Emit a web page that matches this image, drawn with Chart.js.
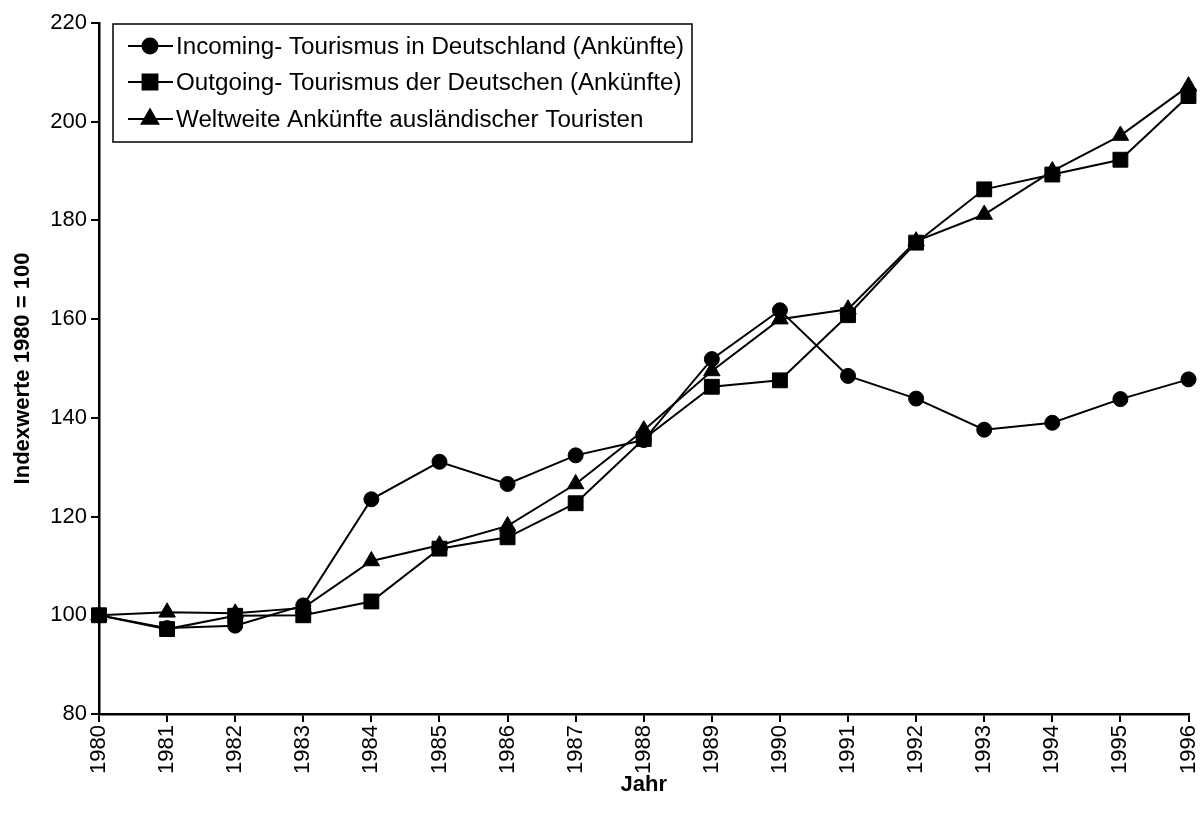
<!DOCTYPE html>
<html>
<head>
<meta charset="utf-8">
<script src="https://cdn.jsdelivr.net/npm/chart.js@4.4.1/dist/chart.umd.min.js"></script>
<style>
  html, body { margin: 0; padding: 0; background: #fff; }
  #wrap { width: 1200px; height: 816px; position: relative; }
</style>
</head>
<body>
<div id="wrap"><canvas id="c" width="1200" height="816"></canvas></div>
<script>
// ---- data ----
const years = ['1980','1981','1982','1983','1984','1985','1986','1987','1988','1989','1990','1991','1992','1993','1994','1995','1996'];
const incoming = [100, 97.4, 97.9, 102, 123.5, 131.1, 126.6, 132.4, 135.5, 151.9, 161.8, 148.5, 143.9, 137.6, 139, 143.8, 147.8];
const outgoing = [100, 97.2, 99.9, 100, 102.8, 113.5, 115.8, 122.7, 135.7, 146.3, 147.6, 160.8, 175.5, 186.3, 189.3, 192.3, 205.2];
const weltweit = [100, 100.6, 100.4, 101.5, 111, 114.2, 118.1, 126.6, 137.5, 149.5, 160, 162, 175.8, 181.2, 190, 197.2, 207.2];
const seriesLabels = [
  'Incoming- Tourismus in Deutschland (Ankünfte)',
  'Outgoing- Tourismus der Deutschen (Ankünfte)',
  'Weltweite Ankünfte ausländischer Touristen'
];
const yTicksMin = 80, yTicksMax = 220, yStep = 20;
const xTitle = 'Jahr';
const yTitle = 'Indexwerte 1980 = 100';

const FONT = '"Liberation Sans", Arial, Helvetica, sans-serif';

function ds(label, data, style, radius) {
  return {
    label, data,
    borderColor: '#000', backgroundColor: '#000',
    borderWidth: 2,
    pointStyle: style, pointRadius: radius, pointHoverRadius: radius,
    pointBackgroundColor: '#000', pointBorderColor: '#000', pointBorderWidth: 1,
    tension: 0, fill: false
  };
}

const legendBox = {
  id: 'legendBox',
  afterDraw(chart) {
    const ctx = chart.ctx;
    const x0 = 113, y0 = 24, w = 579, h = 118;
    ctx.save();
    ctx.fillStyle = '#fff';
    ctx.fillRect(x0, y0, w, h);
    ctx.strokeStyle = '#000';
    ctx.lineWidth = 1.5;
    ctx.strokeRect(x0, y0, w, h);
    const rows = [46, 82, 119];
    chart.data.datasets.forEach((d, i) => {
      const y = rows[i];
      ctx.strokeStyle = '#000';
      ctx.lineWidth = 2;
      ctx.beginPath();
      ctx.moveTo(128, y); ctx.lineTo(173, y);
      ctx.stroke();
      ctx.fillStyle = '#000';
      Chart.helpers.drawPoint(ctx, {pointStyle: d.pointStyle, radius: d.pointRadius, rotation: 0, borderWidth: 1}, 150, y);
      ctx.fill();
      ctx.font = '24.2px ' + FONT;
      ctx.textBaseline = 'middle';
      ctx.textAlign = 'left';
      ctx.fillText(d.label, 176, y + 1);
    });
    ctx.restore();
  }
};

new Chart(document.getElementById('c'), {
  type: 'line',
  data: {
    labels: years,
    datasets: [
      ds(seriesLabels[0], incoming, 'circle', 7.5),
      ds(seriesLabels[1], outgoing, 'rect', 10.5),
      ds(seriesLabels[2], weltweit, 'triangle', 9.5)
    ]
  },
  options: {
    responsive: false,
    animation: false,
    events: [],
    layout: { padding: { left: 0, right: 11, top: 23, bottom: 0 } },
    plugins: { legend: { display: false }, tooltip: { enabled: false } },
    scales: {
      x: {
        type: 'category',
        offset: false,
        afterFit(s) { s.height = 102; s.paddingRight = 0; s.paddingLeft = 0; },
        border: { display: true, color: '#000', width: 2.5 },
        grid: { display: true, drawOnChartArea: false, drawTicks: true, tickLength: 8, color: '#000', lineWidth: 2 },
        ticks: { color: '#000', font: { family: FONT, size: 22 }, autoSkip: false, minRotation: 90, maxRotation: 90, padding: 3 },
        title: { display: true, text: xTitle, color: '#000', font: { family: FONT, size: 22, weight: 'bold' }, padding: { top: 0, bottom: 18 } }
      },
      y: {
        min: yTicksMin, max: yTicksMax,
        afterFit(s) { s.width = 99; s.paddingTop = 0; s.paddingBottom = 0; },
        border: { display: true, color: '#000', width: 2.5 },
        grid: { display: true, drawOnChartArea: false, drawTicks: true, tickLength: 8, color: '#000', lineWidth: 2 },
        ticks: { stepSize: yStep, color: '#000', font: { family: FONT, size: 22 }, padding: 4 },
        title: { display: true, text: yTitle, color: '#000', font: { family: FONT, size: 22, weight: 'bold' }, padding: { top: 10, bottom: 0 } }
      }
    }
  },
  plugins: [legendBox]
});
</script>
</body>
</html>
